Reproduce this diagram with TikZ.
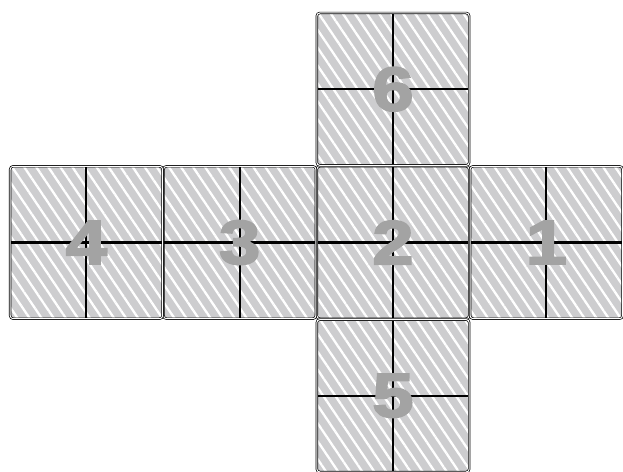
\documentclass[tikz,border=0pt]{standalone}
\usepackage{fontspec}
\newfontfamily\numfont[FakeStretch=1.2,BoldFeatures={FakeBold=3}]{Liberation Sans}
\usetikzlibrary{positioning,patterns.meta}
\definecolor{facegray}{HTML}{CDCDCF}
\definecolor{numgray}{HTML}{A3A3A3}

\begin{document}
\begin{tikzpicture}[
      x=1pt,y=1pt,
      node distance=0pt,
      face/.style={draw=black,double=white,double distance=1pt,line width=0.7pt,
                   rounded corners=3pt,minimum size=152.4pt,inner sep=0pt,outer sep=0.45pt,
                   preaction={fill=facegray},
                   pattern={Lines[angle=-56,distance=10pt,line width=2.3pt]},
                   pattern color=white,
                   font=\numfont\bfseries\fontsize{62}{62}\selectfont,text=numgray,
                   path picture={\draw[line width=2.2pt]
                     (path picture bounding box.north) -- (path picture bounding box.south)
                     (path picture bounding box.west) -- (path picture bounding box.east);}}]
    \useasboundingbox (-393,-228.5) rectangle (230,242.5);
    \clip (-393,-228.5) rectangle (230,242.5);
    % middle row
    \node[face] (f2) {2};
    \node[face,left=of f2] (f3) {3};
    \node[face,left=of f3] (f4) {4};
    \node[face,right=of f2] (f1) {1};
    % top and bottom
    \node[face,above=of f2] (f6) {6};
    \node[face,below=of f2] (f5) {5};
\end{tikzpicture}
\end{document}
